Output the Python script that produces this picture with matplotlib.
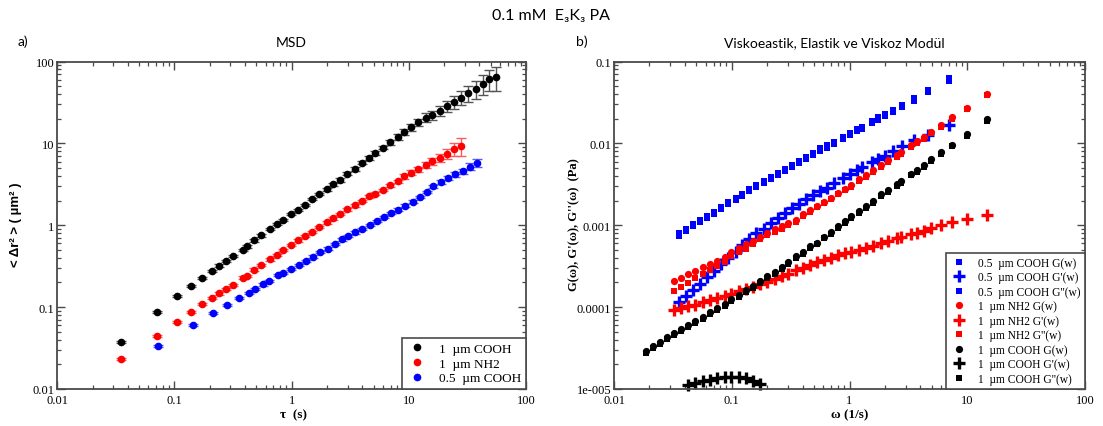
import matplotlib
matplotlib.use('Agg')
import matplotlib.pyplot as plt
from matplotlib.lines import Line2D
from matplotlib.ticker import LogLocator, NullFormatter

# ---------------- MSD data (panel a) ----------------
tau_1cooh = [0.0349, 0.0708, 0.106, 0.138, 0.171, 0.208, 0.240, 0.276, 0.315, 0.383, 0.414, 0.481,
             0.552, 0.655, 0.746, 0.849, 0.989, 1.135, 1.293, 1.493, 1.713, 1.992, 2.240, 2.585,
             2.985, 3.47, 3.96, 4.54, 5.17, 6.01, 6.94, 8.02, 9.14, 10.5, 12.0, 13.9, 15.9, 18.4,
             21.0, 24.2, 27.7, 31.9, 37.1, 42.6, 48.4, 56.0]
msd_1cooh = [0.0380, 0.0867, 0.136, 0.182, 0.228, 0.277, 0.322, 0.368, 0.420, 0.501, 0.551, 0.652,
             0.750, 0.906, 1.035, 1.167, 1.364, 1.54, 1.77, 2.09, 2.41, 2.74, 3.16, 3.60, 4.27,
             4.91, 5.82, 6.64, 7.64, 8.87, 10.4, 12.0, 13.8, 15.7, 18.1, 20.7, 22.0, 25.2, 28.4,
             32.1, 36.3, 40.9, 46.3, 53.3, 61.4, 64.3]
err_1cooh = [0.0011, 0.0026, 0.0041, 0.0055, 0.0068, 0.0083, 0.0097, 0.011, 0.0126, 0.015, 0.0165,
             0.0196, 0.0225, 0.0272, 0.036, 0.041, 0.048, 0.054, 0.062, 0.073, 0.084, 0.096, 0.11,
             0.18, 0.21, 0.25, 0.29, 0.33, 0.38, 0.44, 0.73, 0.96, 1.24, 1.57, 1.99, 2.48, 2.86,
             3.53, 4.54, 5.78, 7.26, 9.0, 11.1, 14.4, 17.2, 20.6]

tau_1nh2 = tau_1cooh[:41]
msd_1nh2 = [0.0231, 0.0449, 0.0661, 0.0867, 0.110, 0.129, 0.147, 0.166, 0.186, 0.230, 0.243, 0.288,
            0.329, 0.382, 0.432, 0.501, 0.577, 0.652, 0.738, 0.826, 0.953, 1.082, 1.224, 1.371,
            1.560, 1.757, 1.982, 2.25, 2.43, 2.70, 3.07, 3.44, 3.95, 4.39, 4.82, 5.50, 6.10, 6.70,
            7.50, 8.63, 9.38]
err_1nh2 = [0.0007, 0.0013, 0.002, 0.0026, 0.0033, 0.0039, 0.0044, 0.005, 0.0056, 0.0069, 0.0073,
            0.0086, 0.0099, 0.0115, 0.013, 0.015, 0.0173, 0.0196, 0.022, 0.025, 0.029, 0.043, 0.049,
            0.055, 0.062, 0.07, 0.079, 0.09, 0.097, 0.108, 0.123, 0.17, 0.24, 0.31, 0.39, 0.5, 0.61,
            0.8, 1.13, 1.55, 2.35]

tau_05cooh = [0.0722, 0.145, 0.215, 0.283, 0.358, 0.434, 0.488, 0.574, 0.641, 0.771, 0.849, 0.982,
              1.150, 1.318, 1.513, 1.746, 2.04, 2.34, 2.67, 3.03, 3.47, 4.01, 4.66, 5.35, 6.17,
              7.11, 8.13, 9.31, 10.8, 12.4, 14.2, 16.1, 18.7, 21.5, 25.0, 28.8, 33.2, 38.1]
msd_05cooh = [0.0339, 0.0607, 0.0851, 0.1066, 0.130, 0.148, 0.167, 0.189, 0.208, 0.246, 0.262,
              0.294, 0.329, 0.368, 0.415, 0.470, 0.520, 0.589, 0.670, 0.738, 0.817, 0.897, 1.005,
              1.125, 1.253, 1.40, 1.549, 1.742, 1.95, 2.21, 2.55, 2.98, 3.38, 3.78, 4.23, 4.55,
              5.20, 5.77]
err_05cooh = [0.001, 0.0018, 0.0026, 0.0032, 0.0039, 0.0044, 0.005, 0.0057, 0.0062, 0.0074, 0.0079,
              0.0088, 0.0099, 0.011, 0.0125, 0.0141, 0.0156, 0.0177, 0.02, 0.022, 0.0245, 0.027,
              0.030, 0.034, 0.038, 0.042, 0.062, 0.07, 0.078, 0.088, 0.102, 0.119, 0.17, 0.23,
              0.30, 0.36, 0.52, 0.69]

# ---------------- Modulus data (panel b) ----------------
w_05 = [0.0353, 0.0407, 0.0466, 0.0538, 0.0620, 0.0707, 0.0811, 0.0936, 0.108, 0.123, 0.141, 0.162,
        0.188, 0.216, 0.246, 0.285, 0.323, 0.375, 0.428, 0.488, 0.557, 0.641, 0.740, 0.877, 1.002,
        1.167, 1.272, 1.556, 1.760, 2.006, 2.333, 2.80, 3.52, 4.61, 6.98]
G_05 = [7.95e-4, 8.95e-4, 1.03e-3, 1.162e-3, 1.315e-3, 1.472e-3, 1.693e-3, 1.911e-3, 2.137e-3,
        2.412e-3, 2.752e-3, 3.105e-3, 3.51e-3, 3.93e-3, 4.40e-3, 4.93e-3, 5.45e-3, 6.10e-3,
        6.89e-3, 7.71e-3, 8.70e-3, 9.47e-3, 1.051e-2, 1.192e-2, 1.337e-2, 1.497e-2, 1.606e-2,
        1.874e-2, 2.079e-2, 2.312e-2, 2.58e-2, 2.94e-2, 3.54e-2, 4.50e-2, 6.21e-2]
Gp_05 = [1.161e-4, 1.350e-4, 1.599e-4, 1.908e-4, 2.303e-4, 2.77e-4, 3.345e-4, 3.96e-4, 4.75e-4,
         5.71e-4, 6.84e-4, 7.94e-4, 9.06e-4, 1.079e-3, 1.217e-3, 1.429e-3, 1.612e-3, 1.829e-3,
         2.075e-3, 2.335e-3, 2.65e-3, 2.883e-3, 3.27e-3, 3.76e-3, 4.19e-3, 4.75e-3, 5.10e-3,
         5.87e-3, 6.51e-3, 7.08e-3, 8.05e-3, 9.19e-3, 1.088e-2, 1.270e-2, 1.696e-2]
Gpp_05 = [7.47e-4, 8.40e-4, 9.67e-4, 1.091e-3, 1.235e-3, 1.382e-3, 1.590e-3, 1.794e-3, 2.007e-3,
          2.265e-3, 2.584e-3, 2.916e-3, 3.30e-3, 3.69e-3, 4.13e-3, 4.63e-3, 5.12e-3, 5.72e-3,
          6.47e-3, 7.24e-3, 8.17e-3, 8.89e-3, 9.86e-3, 1.119e-2, 1.255e-2, 1.405e-2, 1.508e-2,
          1.759e-2, 1.951e-2, 2.171e-2, 2.422e-2, 2.764e-2, 3.33e-2, 4.23e-2, 5.83e-2]

w_1 = [0.0187, 0.0216, 0.0246, 0.0282, 0.0324, 0.0371, 0.0428, 0.0492, 0.0570, 0.0654, 0.0754,
       0.0868, 0.0992, 0.115, 0.132, 0.152, 0.174, 0.200, 0.231, 0.266, 0.303, 0.350, 0.403, 0.463,
       0.531, 0.605, 0.693, 0.797, 0.918, 1.038, 1.211, 1.384, 1.587, 1.849, 2.14, 2.51, 2.73,
       3.32, 3.72, 4.26, 4.96, 5.94, 7.44, 9.92, 14.8]
w_nh2 = w_1[4:]
G_nh2 = [2.075e-4, 2.276e-4, 2.505e-4, 2.725e-4, 3.05e-4, 3.41e-4, 3.71e-4, 4.11e-4, 4.65e-4,
         5.24e-4, 5.82e-4, 6.43e-4, 7.28e-4, 8.15e-4, 8.94e-4, 9.80e-4, 1.058e-3, 1.167e-3,
         1.362e-3, 1.524e-3, 1.72e-3, 1.923e-3, 2.18e-3, 2.505e-3, 2.80e-3, 3.10e-3, 3.64e-3,
         4.07e-3, 4.73e-3, 5.42e-3, 6.24e-3, 7.14e-3, 7.83e-3, 9.45e-3, 1.064e-2, 1.193e-2,
         1.389e-2, 1.658e-2, 2.075e-2, 2.725e-2, 4.04e-2]
Gp_nh2 = [9.27e-5, 9.81e-5, 1.020e-4, 1.067e-4, 1.141e-4, 1.207e-4, 1.277e-4, 1.350e-4, 1.440e-4,
          1.554e-4, 1.658e-4, 1.769e-4, 1.891e-4, 2.034e-4, 2.196e-4, 2.388e-4, 2.562e-4, 2.81e-4,
          3.006e-4, 3.28e-4, 3.51e-4, 3.74e-4, 3.96e-4, 4.31e-4, 4.55e-4, 4.73e-4, 5.00e-4,
          5.24e-4, 5.59e-4, 6.03e-4, 6.43e-4, 6.98e-4, 7.20e-4, 7.81e-4, 8.15e-4, 8.62e-4,
          9.27e-4, 1.0e-3, 1.082e-3, 1.184e-3, 1.335e-3]
Gpp_nh2 = [1.567e-4, 1.739e-4, 1.962e-4, 2.239e-4, 2.525e-4, 2.85e-4, 3.19e-4, 3.57e-4, 4.19e-4,
           4.65e-4, 5.20e-4, 5.92e-4, 6.75e-4, 7.55e-4, 8.38e-4, 9.12e-4, 1.0e-3, 1.097e-3,
           1.306e-3, 1.461e-3, 1.649e-3, 1.845e-3, 2.087e-3, 2.40e-3, 2.687e-3, 2.97e-3, 3.49e-3,
           3.90e-3, 4.53e-3, 5.20e-3, 5.98e-3, 6.84e-3, 7.51e-3, 9.06e-3, 1.020e-2, 1.144e-2,
           1.332e-2, 1.589e-2, 1.99e-2, 2.60e-2, 3.85e-2]

G_1cooh = [2.932e-5, 3.318e-5, 3.71e-5, 4.31e-5, 4.82e-5, 5.39e-5, 6.03e-5, 6.81e-5, 7.55e-5,
           8.62e-5, 9.64e-5, 1.088e-4, 1.252e-4, 1.413e-4, 1.612e-4, 1.82e-4, 2.075e-4, 2.367e-4,
           2.695e-4, 3.057e-4, 3.54e-4, 4.19e-4, 4.75e-4, 5.59e-4, 6.15e-4, 7.28e-4, 8.29e-4,
           9.80e-4, 1.128e-3, 1.298e-3, 1.494e-3, 1.72e-3, 1.978e-3, 2.388e-3, 2.695e-3, 3.162e-3,
           3.44e-3, 4.27e-3, 4.73e-3, 5.47e-3, 6.45e-3, 7.77e-3, 9.64e-3, 1.306e-2, 1.962e-2]
Gpp_1cooh = [2.79e-5, 3.15e-5, 3.52e-5, 4.09e-5, 4.58e-5, 5.12e-5, 5.73e-5, 6.47e-5, 7.17e-5,
             8.19e-5, 9.16e-5, 1.034e-4, 1.189e-4, 1.342e-4, 1.531e-4, 1.73e-4, 1.97e-4, 2.25e-4,
             2.56e-4, 2.90e-4, 3.36e-4, 3.98e-4, 4.51e-4, 5.31e-4, 5.84e-4, 6.92e-4, 7.88e-4,
             9.31e-4, 1.072e-3, 1.233e-3, 1.419e-3, 1.634e-3, 1.879e-3, 2.27e-3, 2.56e-3, 3.00e-3,
             3.27e-3, 4.06e-3, 4.49e-3, 5.20e-3, 6.13e-3, 7.38e-3, 9.16e-3, 1.24e-2, 1.86e-2]
w_1cooh_p = w_1[6:17]
Gp_1cooh = [1.119e-5, 1.184e-5, 1.241e-5, 1.298e-5, 1.362e-5, 1.401e-5, 1.413e-5, 1.401e-5,
            1.351e-5, 1.262e-5, 1.141e-5]

major_ticks = [0.01, 0.1, 1, 10, 100]
major_labels = ['0.01', '0.1', '1', '10', '100']
yL_ticks = [0.01, 0.1, 1, 10, 100]
yL_labels = ['0.01', '0.1', '1', '10', '100']
yR_ticks = [1e-5, 1e-4, 1e-3, 1e-2, 0.1]
yR_labels = ['1e-005', '0.0001', '0.001', '0.01', '0.1']

SERIF = 'Liberation Serif'
TITLEF = ['Lato', 'DejaVu Sans']
SPINE = '#4a4a4a'

W, H = 1103, 427
fig = plt.figure(figsize=(W / 100, H / 100), dpi=100)
axL = fig.add_axes([57.3 / W, 37 / H, 468.7 / W, 327.5 / H])
axR = fig.add_axes([614 / W, 37 / H, 471 / W, 327.5 / H])


def style(ax, yt, yl):
    ax.set_xscale('log')
    ax.set_yscale('log')
    ax.set_xticks(major_ticks)
    ax.set_xticklabels(major_labels)
    ax.set_yticks(yt)
    ax.set_yticklabels(yl)
    ax.xaxis.set_minor_locator(LogLocator(base=10, subs=range(2, 10), numticks=50))
    ax.yaxis.set_minor_locator(LogLocator(base=10, subs=range(2, 10), numticks=50))
    ax.xaxis.set_minor_formatter(NullFormatter())
    ax.yaxis.set_minor_formatter(NullFormatter())
    ax.tick_params(which='both', direction='in', top=True, right=True, color=SPINE)
    ax.tick_params(which='major', length=5.5, width=1.0, labelsize=9)
    ax.tick_params(axis='x', which='major', pad=3.5)
    ax.tick_params(axis='y', which='major', pad=2)
    ax.tick_params(which='minor', length=3, width=0.9)
    for lab in ax.get_xticklabels() + ax.get_yticklabels():
        lab.set_fontfamily(SERIF)
    for s in ax.spines.values():
        s.set_color(SPINE)
        s.set_linewidth(1.3)


# ---------- panel a ----------
kw = dict(fmt='o', ms=4.5, elinewidth=1.0, capsize=3.8, capthick=1.0, zorder=3)
axL.errorbar(tau_1cooh, msd_1cooh, yerr=err_1cooh, color='black', ecolor='#555555', **kw)
axL.errorbar(tau_1nh2, msd_1nh2, yerr=err_1nh2, color='red', ecolor='#ff5a5a', **kw)
axL.errorbar(tau_05cooh, msd_05cooh, yerr=err_05cooh, color='blue', ecolor='#5a5aff', **kw)
axL.set_xlim(0.01, 100)
axL.set_ylim(0.01, 100)
style(axL, yL_ticks, yL_labels)

hL = [Line2D([], [], ls='', marker='o', color=c, ms=4.5) for c in ['black', 'red', 'blue']]
legL = axL.legend(hL, ['1  µm COOH', '1  µm NH2', '0.5  µm COOH'], loc='lower right',
                  bbox_to_anchor=(1, 0), borderaxespad=0, fancybox=False, edgecolor=SPINE,
                  prop={'family': SERIF, 'size': 9.5}, handlelength=1.6, handletextpad=0.9,
                  labelspacing=0.2, borderpad=0.35, framealpha=1)
legL.get_frame().set_linewidth(1.2)

# ---------- panel b ----------
sq = dict(ls='', marker='s', ms=4.6, mew=0)
ci = dict(ls='', marker='o', ms=5.2, mew=0)
pl = dict(ls='', marker='+', ms=8, mew=2.4)
axR.plot(w_05, G_05, color='blue', **sq)
axR.plot(w_05, Gp_05, color='blue', **pl)
axR.plot(w_05, Gpp_05, color='blue', **sq)
axR.plot(w_nh2, G_nh2, color='red', **ci)
axR.plot(w_nh2, Gp_nh2, color='red', **pl)
axR.plot(w_nh2, Gpp_nh2, color='red', **sq)
axR.plot(w_1, G_1cooh, color='black', **ci)
axR.plot(w_1cooh_p, Gp_1cooh, color='black', clip_on=False, **pl)
axR.plot(w_1, Gpp_1cooh, color='black', **sq)
axR.set_xlim(0.01, 100)
axR.set_ylim(1e-5, 0.1)
style(axR, yR_ticks, yR_labels)

hR = [Line2D([], [], color='blue', **sq), Line2D([], [], color='blue', **pl),
      Line2D([], [], color='blue', **sq),
      Line2D([], [], color='red', **ci), Line2D([], [], color='red', **pl),
      Line2D([], [], color='red', **sq),
      Line2D([], [], color='black', **ci), Line2D([], [], color='black', **pl),
      Line2D([], [], color='black', **sq)]
labR = ["0.5  µm COOH G(w)", "0.5  µm COOH G'(w)", "0.5  µm COOH G''(w)",
        "1  µm NH2 G(w)", "1  µm NH2 G'(w)", "1  µm NH2 G''(w)",
        "1  µm COOH G(w)", "1  µm COOH G'(w)", "1  µm COOH G''(w)"]
legR = axR.legend(hR, labR, loc='lower right', bbox_to_anchor=(1, 0), borderaxespad=0,
                  fancybox=False, edgecolor=SPINE, prop={'family': SERIF, 'size': 8.3},
                  handlelength=1.6, handletextpad=0.9, labelspacing=0.22, borderpad=0.35,
                  framealpha=1)
legR.get_frame().set_linewidth(1.2)

# ---------- texts ----------
fig.text(551 / W, 1 - 16 / H, '0.1 mM  E₃K₃ PA', ha='center', va='center',
         family=TITLEF, fontsize=11.5)
fig.text(18 / W, 1 - 42 / H, 'a)', ha='left', va='center', family=TITLEF, fontsize=10)
fig.text(291 / W, 1 - 43 / H, 'MSD', ha='center', va='center', family=TITLEF, fontsize=10)
fig.text(576 / W, 1 - 42 / H, 'b)', ha='left', va='center', family=TITLEF, fontsize=10)
fig.text(834 / W, 1 - 43 / H, 'Viskoeastik, Elastik ve Viskoz Modül', ha='center',
         va='center', family=TITLEF, fontsize=10)

fig.text(293 / W, 1 - 415 / H, 'τ  (s)', ha='center', va='center', family=SERIF,
         fontweight='bold', fontsize=9.5)
fig.text(850 / W, 1 - 415 / H, 'ω (1/s)', ha='center', va='center', family=SERIF,
         fontweight='bold', fontsize=9.5)
fig.text(16 / W, 1 - 225 / H, '< Δr² > ( µm² )', ha='center', va='center', rotation=90,
         family='Liberation Sans', fontweight='bold', fontsize=9.5)
fig.text(574 / W, 1 - 225 / H, "G(ω), G'(ω), G''(ω)  (Pa)", ha='center', va='center',
         rotation=90, family=SERIF, fontweight='bold', fontsize=9)

fig.savefig('out.png', dpi=100)
